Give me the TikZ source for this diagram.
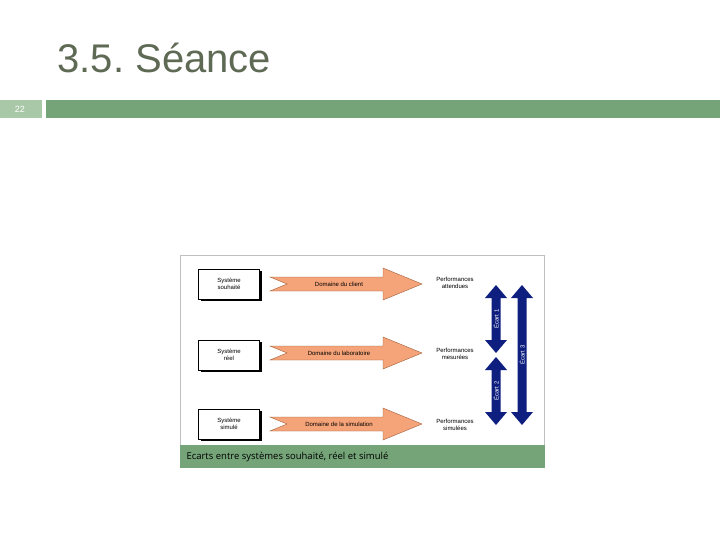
\documentclass[tikz,border=0pt]{standalone}
\usepackage{fontspec}
\setmainfont{Liberation Sans}
\newfontfamily\capfont{Open Sans}
\frenchspacing
\begin{document}
\begin{tikzpicture}[x=1pt,y=-1pt,
  sys/.style={draw=black,line width=0.8pt,fill=white,minimum width=62pt,minimum height=31pt,align=center,font=\fontsize{6}{7}\selectfont},
  perf/.style={align=center,font=\fontsize{6}{7}\selectfont},
  orange/.style={fill=salm,draw=salmd,line width=0.4pt},
  blue/.style={fill=navy},
  lbl/.style={font=\fontsize{6}{7}\selectfont,text=white,rotate=90}]
\definecolor{tgray}{HTML}{5F6A55}
\definecolor{bar}{HTML}{74A477}
\definecolor{barl}{HTML}{A9C8A8}
\definecolor{salm}{HTML}{F5A378}
\definecolor{salmd}{HTML}{A0603A}
\definecolor{navy}{HTML}{0E1F80}
\useasboundingbox (0,0) rectangle (720,540);
\fill[white] (0,0) rectangle (720,540);
\node[anchor=base west,text=tgray,font=\fontsize{40}{44}\selectfont] (title) at (54,73) {3.5. Séance};
\fill[barl] (0,100) rectangle (42,118);
\node[text=white,font=\fontsize{9}{10}\selectfont] (num) at (20,109) {22};
\fill[bar] (46,100) rectangle (720,118);
% frame
\draw[draw=black!25,line width=0.8pt] (180.5,255.5) rectangle (544,445);
\fill[bar] (180,445) rectangle (545,468);
\node[anchor=west,font=\capfont\fontsize{9.5}{11}\selectfont] (cap) at (183,456.5) {Ecarts entre systèmes souhaité, réel et simulé};
% system boxes with shadow
\foreach \y/\n/\t in {284/s1/{Système\\souhaité},355/s2/{Système\\réel},424/s3/{Système\\simulé}}{
  \fill[black] (201,\y-13) rectangle (261.5,\y+17);
  \node[sys,minimum width=61pt,minimum height=30pt] (\n) at (229,\y) {\t};
}
% orange arrows
\foreach \y/\n/\t in {284/a1/{Domaine du client},353/a2/{Domaine du laboratoire},424/a3/{Domaine de la simulation}}{
  \draw[orange] (270,\y-7) -- (383,\y-7) -- (383,\y-16) -- (422,\y) -- (383,\y+16) -- (383,\y+7) -- (270,\y+7) -- (287,\y) -- cycle;
  \node[font=\fontsize{6}{7}\selectfont] (\n) at (339,\y) {\t};
}
\node[perf] (p1) at (455,283) {Performances\\attendues};
\node[perf] (p2) at (455,354) {Performances\\mesurées};
\node[perf] (p3) at (455,424.5) {Performances\\simulées};
% blue double arrows
\foreach \x/\a/\b/\n/\t in {496/285/353/e1/{Écart 1},496/357/425/e2/{Écart 2},522/285/425/e3/{Écart 3}}{
  \fill[blue] (\x,\a) -- (\x+11,\a+13) -- (\x+4.5,\a+13) -- (\x+4.5,\b-13) -- (\x+11,\b-13) -- (\x,\b) -- (\x-11,\b-13) -- (\x-4.5,\b-13) -- (\x-4.5,\a+13) -- (\x-11,\a+13) -- cycle;
  \node[lbl] (\n) at (\x,{(\a+\b)/2}) {\t};
}
\end{tikzpicture}
\end{document}
